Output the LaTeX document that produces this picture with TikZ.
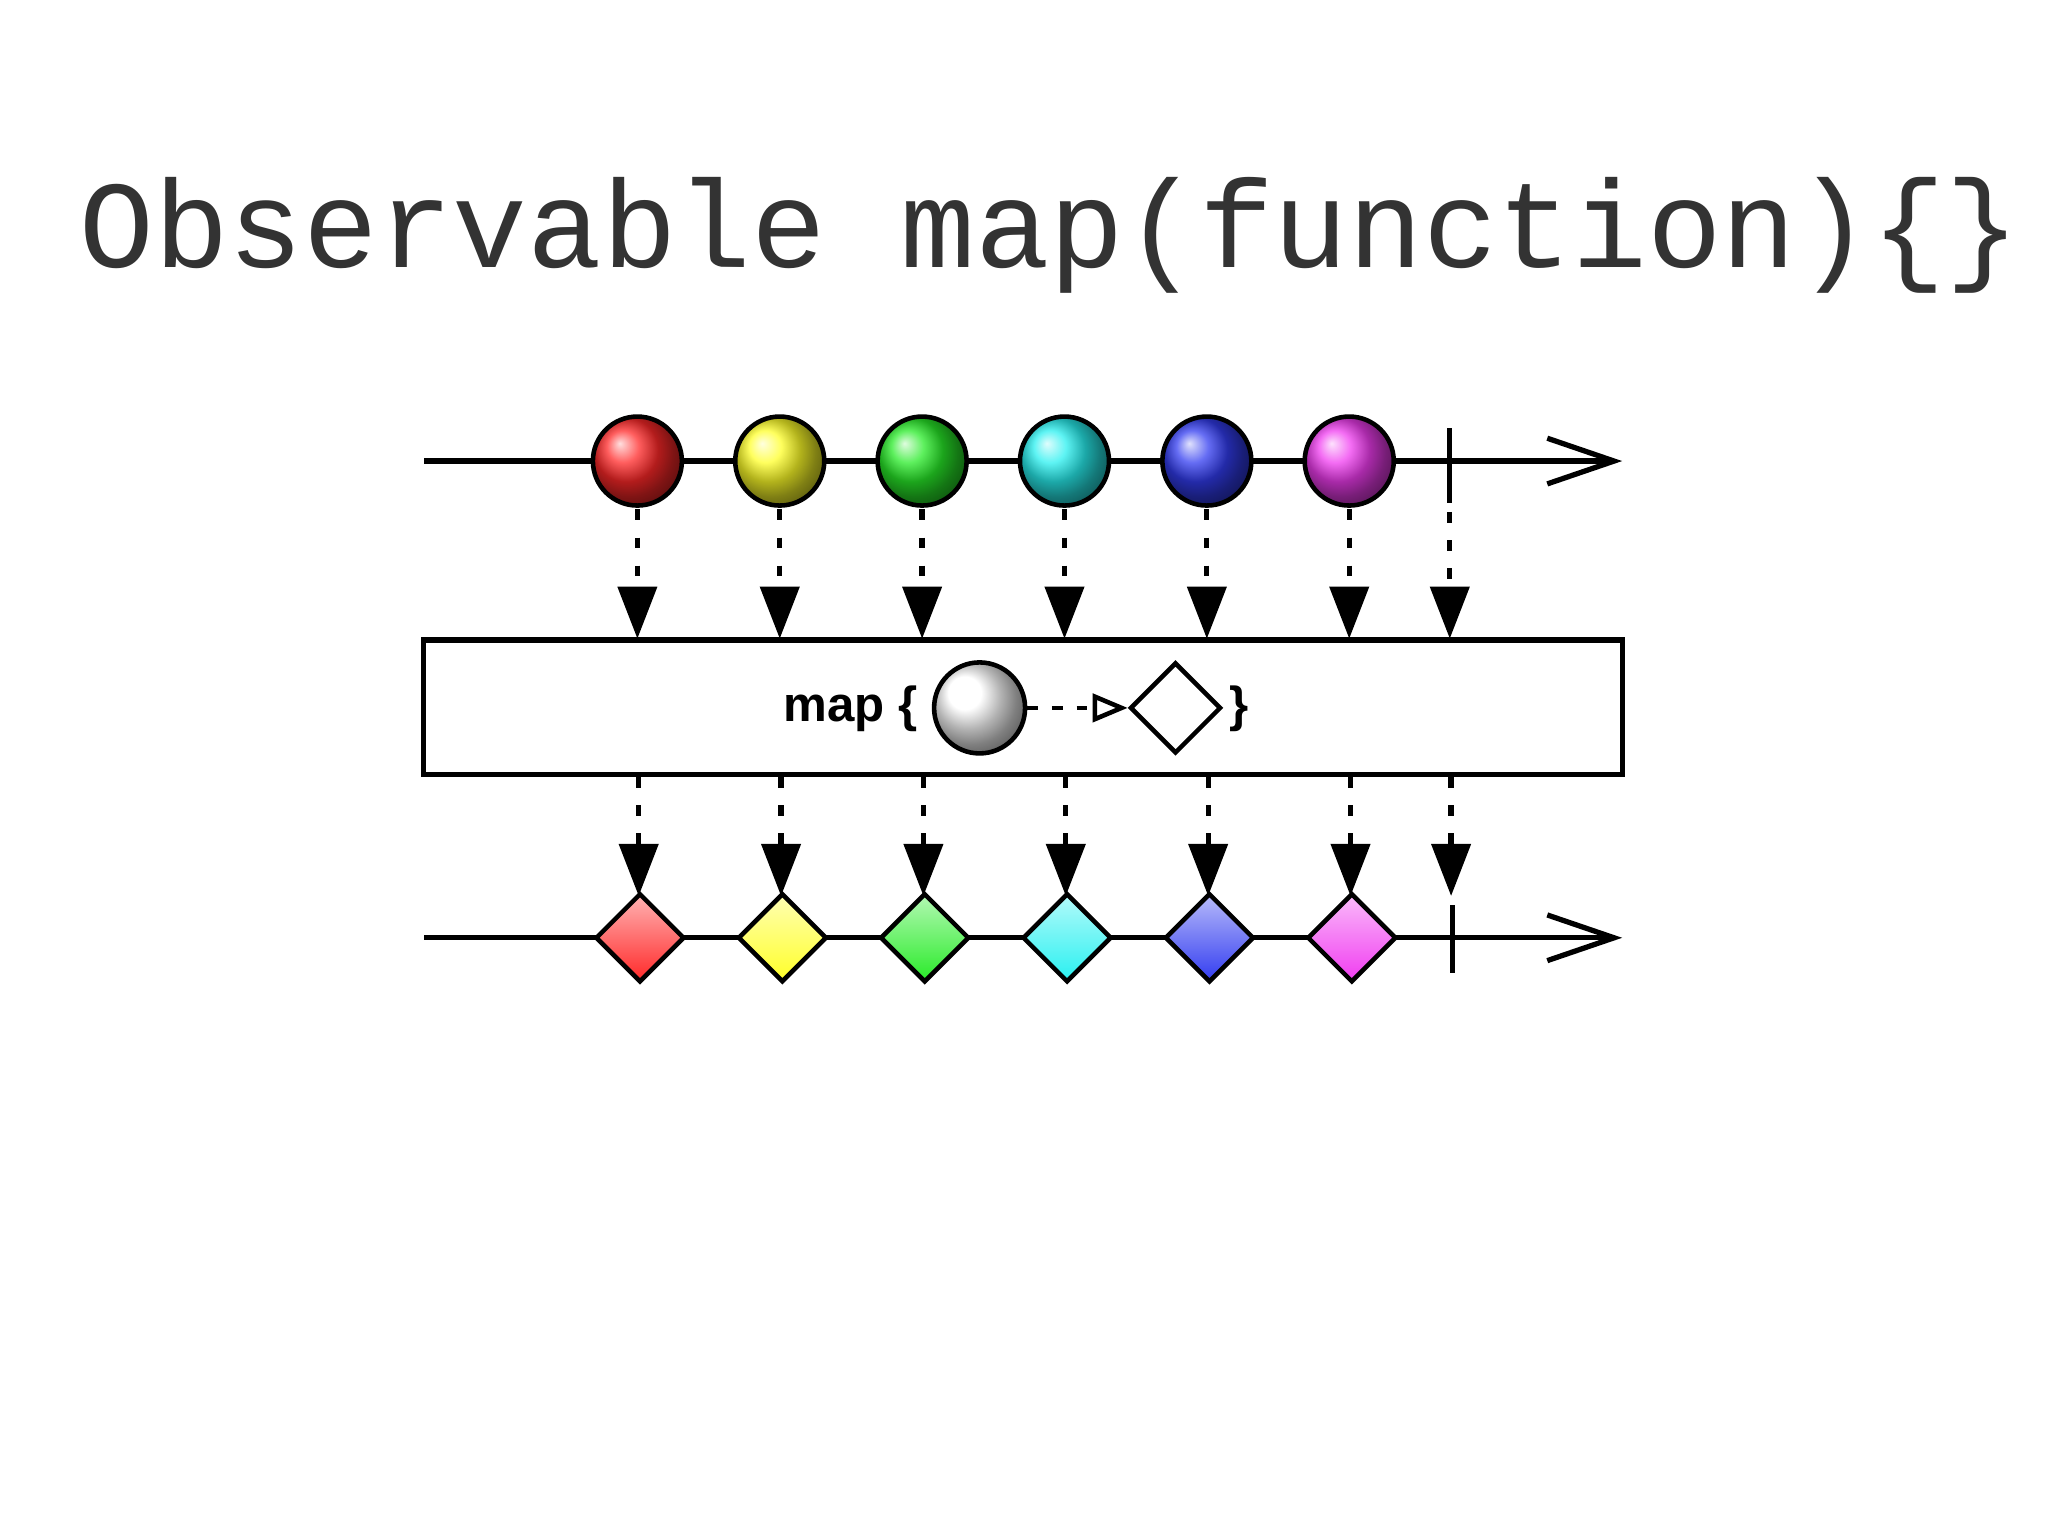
\documentclass[tikz,border=0pt]{standalone}
\usepackage{fontspec}
\newfontfamily\monof{Liberation Mono}
\newfontfamily\sansf{Liberation Sans}
\usetikzlibrary{arrows.meta,shapes.geometric}
\definecolor{cR}{RGB}{255,40,40}
\definecolor{cY}{RGB}{255,255,40}
\definecolor{cG}{RGB}{40,235,40}
\definecolor{cC}{RGB}{40,240,240}
\definecolor{cB}{RGB}{50,60,240}
\definecolor{cM}{RGB}{240,60,240}
\tikzset{
  ln/.style={line width=1.5pt},
  ball/.style={circle,draw,line width=1.3pt,inner sep=0,minimum size=0.89cm,shading=ball,ball color=#1},
  dia/.style={diamond,draw,line width=1.3pt,inner sep=0,minimum size=0.89cm,aspect=1,top color=#1!35!white,bottom color=#1},
  dots/.style={line width=1.5pt,dash pattern=on 3pt off 5pt,-{Triangle[length=14.8pt,width=11pt]}},
  tl/.style={ln,-{Straight Barb[length=19pt,width=13pt]}}
}
\begin{document}
\begin{tikzpicture}[x=0.01306cm,y=-0.01306cm]
\useasboundingbox[fill=white] (0,0) rectangle (1568,1176);
\node[font=\monof\fontsize{35.4}{40}\selectfont,text=black!80] (title) at (804,180) {Observable map(function)\{\}};
% top line
\coordinate (ts) at (325,353); \coordinate (te) at (1242,353);
\draw[tl] (ts) -- (te);
\foreach \x/\c/\n in {488/cR/1,597/cY/2,706/cG/3,815/cC/4,924/cB/5,1033/cM/6}
  \node[ball=\c] (b\n) at (\x,353) {};
\coordinate (tk1) at (1110,328); \coordinate (tk2) at (1110,385);
\draw[ln] (tk1) -- (tk2);
% box
\node[draw,ln,minimum width=918*0.01306cm,minimum height=103*0.01306cm,inner sep=0] (box) at (783,541.5) {};
\foreach \x/\n in {488/1,597/2,706/3,815/4,924/5,1033/6}{
  \coordinate (ua\n) at (\x,390); \coordinate (ub\n) at (\x,489);
  \draw[dots] (ua\n) -- (ub\n);}
\coordinate (ua7) at (1110,392); \coordinate (ub7) at (1110,489);
\draw[dots] (ua7) -- (ub7);
\foreach \x/\n in {489/1,598/2,707/3,816/4,925/5,1034/6,1111/7}{
  \coordinate (la\n) at (\x,595); \coordinate (lb\n) at (\x,686);
  \draw[dots] (la\n) -- (lb\n);}
% box content
\node[font=\sansf\bfseries\fontsize{14}{16}\selectfont,anchor=east] (mapt) at (712,543) {map \{};
\node[ball=white,minimum size=0.91cm] (fc) at (750,542) {};
\node[diamond,draw,line width=1.3pt,inner sep=0,minimum size=0.91cm,aspect=1,fill=white] (fd) at (900,542) {};
\node[font=\sansf\bfseries\fontsize{14}{16}\selectfont,anchor=west] (cb) at (932,543) {\}};
\draw[line width=1.3pt,dash pattern=on 3pt off 4pt,-{Triangle[open,length=10pt,width=8pt]}] (fc.east) -- (fd.west);
% bottom line
\coordinate (bs) at (325,718); \coordinate (be) at (1242,718);
\draw[tl] (bs) -- (be);
\foreach \x/\c/\n in {490/cR/1,599/cY/2,708/cG/3,817/cC/4,926/cB/5,1035/cM/6}
  \node[dia=\c] (d\n) at (\x,718) {};
\coordinate (bk1) at (1112,693); \coordinate (bk2) at (1112,745);
\draw[ln] (bk1) -- (bk2);
\end{tikzpicture}
\end{document}
